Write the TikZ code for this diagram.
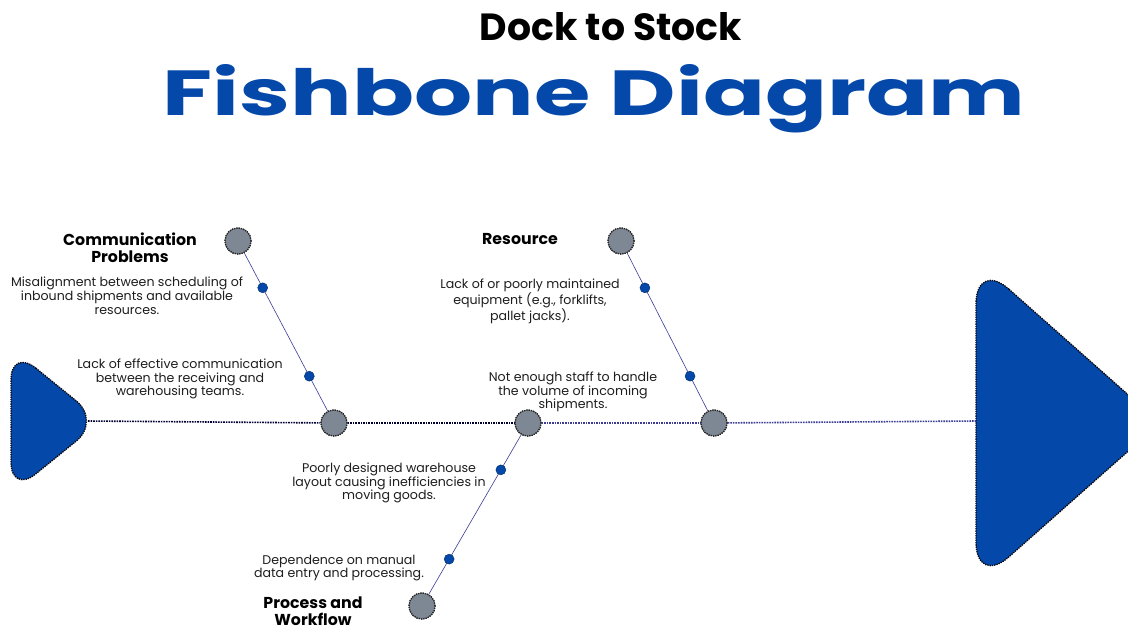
\documentclass[tikz,border=0pt]{standalone}
\usepackage{fontspec}
\setmainfont{Poppins}
\usepackage{graphicx}
\definecolor{fishblue}{RGB}{4,72,170}
\definecolor{bonegray}{RGB}{126,136,148}
\definecolor{boneline}{RGB}{60,60,150}
\definecolor{txt}{RGB}{30,30,30}
\begin{document}
\begin{tikzpicture}[x=1pt,y=-1pt,
  bigcirc/.style={circle,minimum size=26pt,inner sep=0,fill=bonegray,draw=black!85,densely dotted,line width=1.3pt},
  smalldot/.style={circle,minimum size=10pt,inner sep=0,fill=fishblue,draw=fishblue!60!black,line width=0.4pt,solid},
  lbl/.style={font=\fontsize{12.6}{13.8}\selectfont,align=center,inner sep=0,text=txt},
  cat/.style={font=\fontsize{15.8}{16.5}\selectfont\bfseries,align=center,inner sep=0,text=black},
  bone/.style={draw=boneline,line width=0.6pt},
  spine/.style={draw=black!80!blue,densely dotted,line width=1.6pt},
  fishpart/.style={fill=fishblue,draw=black,densely dotted,line width=1.3pt}
]
\useasboundingbox (0,0) rectangle (1128,630);
\fill[white] (0,0) rectangle (1128,630);

% titles
\node[anchor=base,inner sep=0] (title1) at (611,40) {\resizebox{262pt}{28pt}{\bfseries Dock to Stock}};
\node[anchor=base,inner sep=0,text=fishblue] (title2) at (594,115) {\resizebox{862pt}{51pt}{\bfseries Fishbone Diagram}};

% tail and head
\path[fishpart,rounded corners=32pt] (11,348) -- (101,421) -- (11,494) -- cycle;
\path[fishpart,rounded corners=44pt] (976,260) -- (1160,423) -- (976,586) -- cycle;
\coordinate (tail) at (88,421);
\coordinate (head) at (976,421);

% circles
\node[bigcirc] (c1) at (334,423) {};
\node[bigcirc] (c2) at (528,423) {};
\node[bigcirc] (c3) at (714,423) {};
\node[bigcirc] (t1) at (238,241) {};
\node[bigcirc] (t3) at (621,241) {};
\node[bigcirc] (b2) at (422,606) {};

% spine
\draw[spine] (tail) -- (c1);
\draw[spine] (c1) -- (c2);
\draw[spine,draw=boneline] (c2) -- (c3);
\draw[spine,draw=boneline] (c3) -- (head);

% bones
\draw[bone] (t1) -- node[smalldot,pos=0.22] (d1) {} node[smalldot,pos=0.78] (d2) {} (c1);
\draw[bone] (t3) -- node[smalldot,pos=0.22] (d3) {} node[smalldot,pos=0.78] (d4) {} (c3);
\draw[bone] (c2) -- node[smalldot,pos=0.22] (d5) {} node[smalldot,pos=0.78] (d6) {} (b2);

% redraw circles on top
\node[bigcirc] at (c1) {};
\node[bigcirc] at (c2) {};
\node[bigcirc] at (c3) {};
\node[bigcirc] at (t1) {};
\node[bigcirc] at (t3) {};
\node[bigcirc] at (b2) {};

% category labels
\node[cat] (lc) at (130,247.5) {Communication\\Problems};
\node[cat] (lr) at (520,239) {Resource};
\node[cat] (lp) at (313,611) {Process and\\Workflow};

% cause labels
\node[lbl] (x1) at (127,296) {Misalignment between scheduling of\\inbound shipments and available\\resources.};
\node[lbl] (x2) at (180,379) {Lack of effective communication\\between the receiving and\\warehousing teams.};
\node[lbl] (x3) at (530,301) {Lack of or poorly maintained\\equipment (e.g., forklifts,\\pallet jacks).};
\node[lbl] (x4) at (573,392) {Not enough staff to handle\\the volume of incoming\\shipments.};
\node[lbl] (x5) at (389,483) {Poorly designed warehouse\\layout causing inefficiencies in\\moving goods.};
\node[lbl] (x6) at (339,568) {Dependence on manual\\data entry and processing.};
\end{tikzpicture}
\end{document}
